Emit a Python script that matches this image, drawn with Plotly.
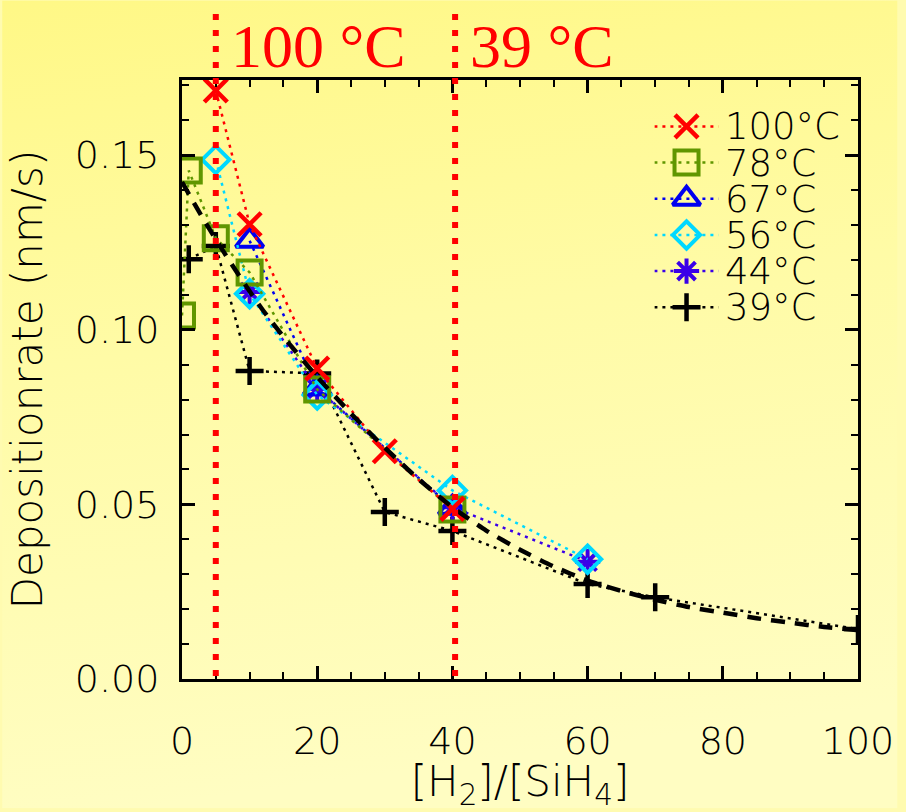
import base64
import plotly.graph_objects as go

# ---------------- data ----------------
x100 = [5, 10, 20, 30, 40]
y100 = [0.1685, 0.1302, 0.0889, 0.0652, 0.0487]

x78 = [0, 1, 5, 10, 20, 40]
y78 = [0.1041, 0.1456, 0.1262, 0.1164, 0.0829, 0.0485]

x67 = [10, 20, 40]
y67 = [0.1255, 0.0832, 0.0490]

x56 = [5, 10, 20, 40, 60]
y56 = [0.1487, 0.1103, 0.0813, 0.0540, 0.0343]

x44 = [10, 20, 40, 60]
y44 = [0.1108, 0.0830, 0.0492, 0.0336]

x39 = [1, 5, 10, 20, 30, 40, 60, 70, 100]
y39 = [0.1202, 0.1240, 0.0882, 0.0875, 0.0478, 0.0424, 0.0272, 0.0234, 0.0143]

fit_x = [0, 2, 4, 6, 8, 10, 12, 15, 20, 25, 30, 35, 40, 45, 50, 55, 60, 65, 70, 75, 80, 85, 90, 95, 100]
fit_y = [0.1423, 0.1355, 0.1290, 0.1228, 0.1168, 0.1110, 0.1055, 0.0980, 0.0865, 0.0760,
         0.0662, 0.0572, 0.0492, 0.0425, 0.0370, 0.0322, 0.0282, 0.0252, 0.0227, 0.0206,
         0.0190, 0.0174, 0.0161, 0.0149, 0.0140]

series_labels = ["100°C", "78°C", "67°C", "56°C", "44°C", "39°C"]
marker_lines_x = [5, 40.4]
marker_lines_text = ["100 °C", "39 °C"]

x_ticks = [0, 20, 40, 60, 80, 100]
y_ticks = [0.00, 0.05, 0.10, 0.15]

# ---------------- styles ----------------
RED = "#ff0000"
GREEN = "#609600"
BLUE = "#0000f0"
CYAN = "#00d8ff"
VIOLET = "#3a00e8"
BLACK = "#000000"

styles = {
    "100°C": dict(color=RED, symbol="x-thin-open", size=23, lw=4.5),
    "78°C": dict(color=GREEN, symbol="square-open", size=24, lw=4),
    "67°C": dict(color=BLUE, symbol="triangle-up-open", size=24, lw=4),
    "56°C": dict(color=CYAN, symbol="diamond-open", size=21, lw=4),
    "44°C": dict(color=VIOLET, symbol="asterisk-open", size=21, lw=4),
    "39°C": dict(color=BLACK, symbol="cross-thin-open", size=20, lw=4.5),
}
data = {
    "100°C": (x100, y100),
    "78°C": (x78, y78),
    "67°C": (x67, y67),
    "56°C": (x56, y56),
    "44°C": (x44, y44),
    "39°C": (x39, y39),
}

FAM = "DejaVu Sans ExtraLight, DejaVu Sans"
TICKFONT = dict(family=FAM, size=38, color="black", weight=200)
TITLEFONT = dict(family=FAM, size=42, color="black", weight=200)

fig = go.Figure()

draw_order = ["39°C", "44°C", "67°C", "56°C", "78°C", "100°C"]
for name in draw_order:
    xs, ys = data[name]
    st = styles[name]
    fig.add_trace(go.Scatter(
        x=xs, y=ys, mode="lines+markers", name=name, showlegend=False,
        line=dict(color=st["color"], width=2.5, dash="3px,5px"),
        marker=dict(symbol=st["symbol"], size=st["size"], color=st["color"],
                    line=dict(color=st["color"], width=st["lw"])),
    ))

# fitted curve
fig.add_trace(go.Scatter(
    x=fit_x, y=fit_y, mode="lines", showlegend=False,
    line=dict(color="black", width=4.5, dash="14px,10px", shape="spline", smoothing=0.6),
))

# manual legend (keys on an auxiliary overlay axis)
for i, name in enumerate(series_labels):
    st = styles[name]
    fig.add_trace(go.Scatter(
        x=[0, 1], y=[i, i], mode="lines", xaxis="x2", yaxis="y2", showlegend=False,
        line=dict(color=st["color"], width=2.5, dash="3px,5px"), cliponaxis=False,
    ))
    fig.add_trace(go.Scatter(
        x=[0.5], y=[i], mode="markers", xaxis="x2", yaxis="y2", showlegend=False,
        marker=dict(symbol=st["symbol"], size=st["size"], color=st["color"],
                    line=dict(color=st["color"], width=st["lw"])), cliponaxis=False,
    ))
    fig.add_annotation(x=1, y=i, xref="x2", yref="y2", text=name, showarrow=False,
                       xanchor="left", yanchor="middle", xshift=4, height=34,
                       font=dict(family=FAM, size=37, color="black", weight=200))

# red vertical reference lines with labels
for xv, txt in zip(marker_lines_x, marker_lines_text):
    fig.add_shape(type="line", xref="x", yref="paper", x0=xv, x1=xv, y0=1.11, y1=0,
                  line=dict(color=RED, width=6, dash="6px,10px"), layer="above")
    fig.add_annotation(x=xv, y=1, xref="x", yref="paper", text=txt, showarrow=False,
                       xanchor="left", yanchor="bottom", xshift=13, yshift=-2,
                       font=dict(family="Liberation Serif", size=62, color=RED))

# background gradient
svg = ("<svg xmlns='http://www.w3.org/2000/svg' width='906' height='812'>"
       "<defs><linearGradient id='g' x1='0' y1='0' x2='0.15' y2='1'>"
       "<stop offset='0' stop-color='#fff886'/>"
       "<stop offset='0.45' stop-color='#fffba6'/>"
       "<stop offset='1' stop-color='#fffdc2'/>"
       "</linearGradient></defs>"
       "<rect width='906' height='812' fill='url(#g)'/></svg>")
src = "data:image/svg+xml;base64," + base64.b64encode(svg.encode()).decode()

L, R, T, B = 182, 40, 80, 130
W, H = 906, 812
pw, ph = W - L - R, H - T - B
fig.add_layout_image(source=src, xref="paper", yref="paper",
                     x=-L / pw, y=1 + T / ph, sizex=W / pw, sizey=H / ph,
                     xanchor="left", yanchor="top", sizing="stretch", layer="below")

axis_common = dict(showline=True, linecolor="black", linewidth=3, mirror="allticks",
                   ticks="inside", tickcolor="black", tickwidth=2.5, ticklen=13,
                   showgrid=False, zeroline=False, tickfont=TICKFONT)

fig.update_layout(
    width=W, height=H,
    margin=dict(l=L, r=R, t=T, b=B),
    paper_bgcolor="#fffbb0",
    plot_bgcolor="rgba(0,0,0,0)",
    showlegend=False,
    xaxis=dict(range=[0, 100], tickvals=x_ticks, ticktext=[str(v) for v in x_ticks],
               minor=dict(dtick=5, ticks="inside", ticklen=7, tickwidth=2, tickcolor="black"),
               ticklabelstandoff=26,
               title=dict(text="[H<sub>2</sub>]/[SiH<sub>4</sub>]", font=TITLEFONT, standoff=8),
               **axis_common),
    yaxis=dict(range=[0, 0.1715], tickvals=y_ticks, ticktext=[f"{v:.2f}" for v in y_ticks],
               minor=dict(dtick=0.01, ticks="inside", ticklen=7, tickwidth=2, tickcolor="black"),
               ticklabelstandoff=12,
               title=dict(text="Depositionrate (nm/s)", font=TITLEFONT, standoff=20),
               **axis_common),
    xaxis2=dict(domain=[(660 - L) / pw, (725 - L) / pw], range=[0, 1], visible=False,
                anchor="y2"),
    yaxis2=dict(domain=[0, 1], range=[15.285, -1.285], visible=False, anchor="x2",
                overlaying="y"),
)

fig.write_html("out.html")
